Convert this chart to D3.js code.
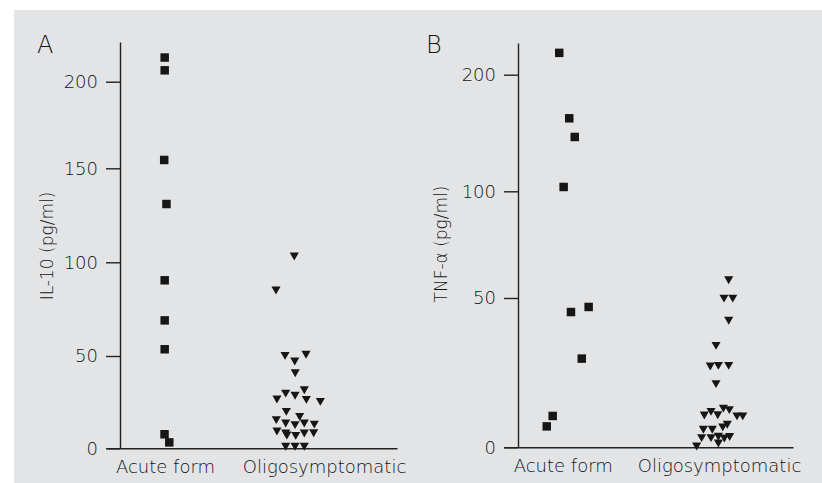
<!DOCTYPE html>
<html>
<head>
<meta charset="utf-8">
<script src="https://cdn.jsdelivr.net/npm/d3@7"></script>
<style>
  html, body { margin: 0; padding: 0; background: #fff; }
  svg { display: block; }
</style>
</head>
<body>
<div id="chart"></div>
<script>
  const categories = ["Acute form", "Oligosymptomatic"];

  // y ticks of each panel (panel B has a segmented axis)
  const il10Ticks = [0, 50, 100, 150, 200];
  const tnfTicks = [0, 50, 100, 200];

  // x is in category units: 1 = Acute form, 2 = Oligosymptomatic
  const il10AcuteVal = [214, 206.6, 154.8, 131, 90.4, 69, 53.6, 7.6, 3.2];
  const il10AcuteX   = [0.998, 0.998, 0.995, 1.009, 0.998, 0.998, 0.998, 0.997, 1.027];

  const il10OligoVal = [104.4, 86.3, 51.4, 52, 48.4, 42, 32.8, 31, 29.8, 27.8, 27.6, 26.5,
                        21.1, 18.4, 16.6, 14.8, 13.9, 14.8, 14.2, 10.5, 9.4, 8.3, 8.1, 9.4, 9.5,
                        2.2, 2.2, 2.2];
  const il10OligoX   = [1.813, 1.698, 1.755, 1.887, 1.816, 1.819, 1.876, 1.759, 1.818, 1.704, 1.889, 1.977,
                        1.763, 1.847, 1.700, 1.759, 1.818, 1.876, 1.939, 1.704, 1.759, 1.767, 1.822, 1.876, 1.935,
                        1.759, 1.818, 1.876];

  const tnfAcuteVal = [218.6, 162.6, 146.6, 103.7, 47.0, 45.3, 29.7, 10.5, 7.0];
  const tnfAcuteX   = [0.978, 1.042, 1.077, 1.006, 1.166, 1.053, 1.122, 0.936, 0.898];

  const tnfOligoVal = [59.5, 50.9, 50.9, 43.2, 34.8, 27.9, 28.1, 28.1, 22.0,
                       13.8, 12.7, 13.3, 11.5, 11.6, 11.2, 11.2, 8.4, 6.7, 6.7, 7.5,
                       3.9, 3.9, 4.4, 3.8, 4.3, 2.1, 1.1];
  const tnfOligoX   = [2.062, 2.032, 2.088, 2.062, 1.981, 1.944, 1.996, 2.062, 1.981,
                       2.028, 1.949, 2.066, 1.906, 1.992, 2.115, 2.152, 2.053, 1.900, 1.957, 2.024,
                       1.889, 1.949, 1.996, 2.034, 2.068, 1.996, 1.857];

  const W = 822, H = 483;
  const ink = "#141414";
  const font = "DejaVu Sans";

  var svg = d3.select("#chart").append("svg")
    .attr("width", W)
    .attr("height", H);

  svg.append("rect")
    .attr("x", 14).attr("y", 10)
    .attr("width", W - 14).attr("height", H - 10)
    .attr("fill", "#e3e4e6");

  function drawPanel(p) {
    var g = svg.append("g");

    var y = d3.scaleLinear().domain(p.yDomain).range(p.yRange);

    // categories placed where the labels sit, then stretched to the axis length
    var x = d3.scaleLinear().domain([1, 2]).range(p.catPx);
    x.domain([x.invert(p.xLine[0]), x.invert(p.xLine[1])]).range(p.xLine);

    // x axis: plain line + category labels
    var xAxis = g.append("g")
      .attr("transform", "translate(0," + y(0) + ")")
      .call(d3.axisBottom(x)
        .tickValues([1, 2])
        .tickSize(0)
        .tickSizeOuter(0)
        .tickPadding(12)
        .tickFormat(function(d) { return categories[d - 1]; }));

    // y axis
    var yAxis = g.append("g")
      .attr("transform", "translate(" + p.yAxisX + ",0)")
      .call(d3.axisLeft(y)
        .tickValues(p.ticks)
        .tickSize(14)
        .tickSizeOuter(0)
        .tickPadding(8));

    [xAxis, yAxis].forEach(function(a) {
      a.select(".domain").attr("stroke", "#222").attr("stroke-width", 1.4);
      a.selectAll(".tick line").attr("stroke", "#222").attr("stroke-width", 1.4);
      a.selectAll(".tick text")
        .attr("fill", ink)
        .style("font-family", font)
        .style("font-weight", 300)
        .style("font-size", "18px");
    });

    g.append("text")
      .attr("transform", "translate(" + p.titleX + "," + p.titleY + ") rotate(-90)")
      .attr("text-anchor", "middle")
      .attr("fill", ink)
      .style("font-family", font)
      .style("font-weight", 300)
      .style("font-size", "17px")
      .text(p.title);

    g.append("text")
      .attr("x", p.letterX)
      .attr("y", 53)
      .attr("fill", ink)
      .style("font-family", font)
      .style("font-weight", 300)
      .style("font-size", "24px")
      .text(p.letter);

    var square = d3.symbol().type(d3.symbolSquare).size(72);
    var tri = d3.symbol().type(d3.symbolTriangle).size(36);

    g.selectAll("path.acute")
      .data(p.acuteVal)
      .enter().append("path")
      .attr("class", "acute")
      .attr("d", square)
      .attr("fill", "#161616")
      .attr("transform", function(d, i) {
        return "translate(" + x(p.acuteX[i]) + "," + y(d) + ")";
      });

    g.selectAll("path.oligo")
      .data(p.oligoVal)
      .enter().append("path")
      .attr("class", "oligo")
      .attr("d", tri)
      .attr("fill", "#161616")
      .attr("transform", function(d, i) {
        return "translate(" + x(p.oligoX[i]) + "," + (y(d) + 1.2) + ") rotate(180)";
      });
  }

  drawPanel({
    letter: "A",
    letterX: 37,
    title: "IL-10 (pg/ml)",
    titleX: 53, titleY: 246,
    ticks: il10Ticks,
    yDomain: [0, 50, 100, 150, 200, 223],
    yRange: [448.3, 356, 262.3, 168.3, 81.7, 42],
    yAxisX: 120,
    xLine: [107, 397],
    catPx: [165, 324],
    acuteVal: il10AcuteVal, acuteX: il10AcuteX,
    oligoVal: il10OligoVal, oligoX: il10OligoX
  });

  drawPanel({
    letter: "B",
    letterX: 426,
    title: "TNF-\u03b1 (pg/ml)",
    titleX: 447, titleY: 244,
    ticks: tnfTicks,
    yDomain: [0, 50, 100, 200, 227],
    yRange: [447.3, 298, 191.3, 74.7, 43],
    yAxisX: 518,
    xLine: [504, 793],
    catPx: [562.7, 719],
    acuteVal: tnfAcuteVal, acuteX: tnfAcuteX,
    oligoVal: tnfOligoVal, oligoX: tnfOligoX
  });
</script>
</body>
</html>
